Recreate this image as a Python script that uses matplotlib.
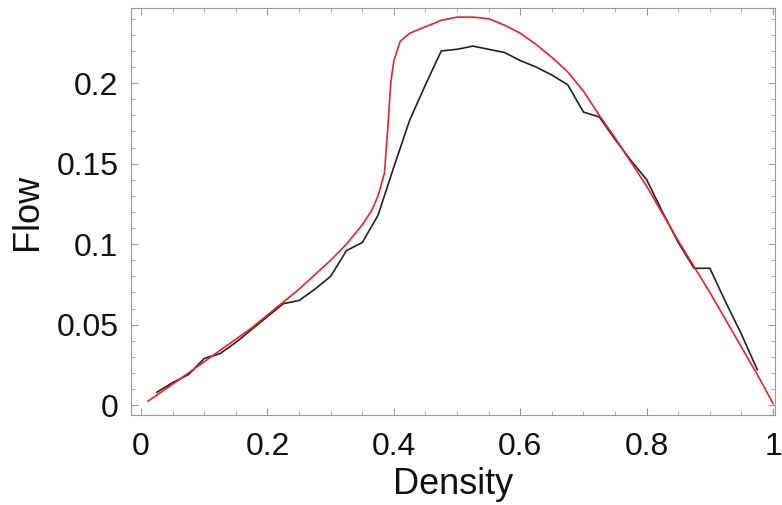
import numpy as np
import matplotlib
matplotlib.use('Agg')
import matplotlib.pyplot as plt
from matplotlib.ticker import MultipleLocator

plt.rcParams['font.family'] = ['Liberation Sans', 'DejaVu Sans']

# simulation (black)
sim_density = [0.025, 0.05, 0.075, 0.1, 0.125, 0.15, 0.175, 0.2, 0.225, 0.25,
               0.275, 0.3, 0.325, 0.35, 0.375, 0.4, 0.425, 0.45, 0.475, 0.5,
               0.525, 0.55, 0.575, 0.6, 0.625, 0.65, 0.675, 0.7, 0.725, 0.75,
               0.775, 0.8, 0.825, 0.85, 0.875, 0.9, 0.925, 0.95, 0.975]
sim_flow = [0.008, 0.014, 0.019, 0.029, 0.032, 0.039, 0.047, 0.055, 0.063, 0.065,
            0.072, 0.080, 0.096, 0.101, 0.118, 0.148, 0.177, 0.199, 0.220, 0.221,
            0.223, 0.221, 0.219, 0.214, 0.210, 0.205, 0.199, 0.182, 0.179, 0.165,
            0.152, 0.140, 0.120, 0.101, 0.085, 0.085, 0.064, 0.044, 0.022]

# theory (red)
th_density = [0.011, 0.05, 0.075, 0.1, 0.125, 0.15, 0.175, 0.2, 0.225, 0.25,
              0.275, 0.3, 0.325, 0.35, 0.365, 0.375, 0.385, 0.39, 0.395, 0.4,
              0.41, 0.425, 0.45, 0.475, 0.5, 0.525, 0.55, 0.575, 0.6, 0.625,
              0.65, 0.675, 0.7, 0.725, 0.75, 0.775, 0.8, 0.825, 0.85, 0.875,
              0.9, 0.925, 0.95, 0.975, 1.0]
th_flow = [0.0025, 0.013, 0.020, 0.027, 0.034, 0.041, 0.048, 0.056, 0.064, 0.072,
           0.081, 0.090, 0.100, 0.112, 0.121, 0.130, 0.144, 0.170, 0.200, 0.214,
           0.226, 0.231, 0.235, 0.239, 0.241, 0.241, 0.240, 0.236, 0.231, 0.224,
           0.216, 0.207, 0.195, 0.180, 0.166, 0.151, 0.136, 0.119, 0.102, 0.086,
           0.070, 0.053, 0.036, 0.019, 0.001]

fig = plt.figure(figsize=(7.82, 5.05), dpi=100)
ax = fig.add_axes([0.1675, 0.178, 0.8235, 0.806])

ax.plot(sim_density, sim_flow, color='#222222', lw=1.2)
ax.plot(th_density, th_flow, color='#e8232a', lw=1.2)

ax.set_xlim(-0.016, 1.003)
ax.set_ylim(-0.0062, 0.2466)

ax.set_xticks([0, 0.2, 0.4, 0.6, 0.8, 1])
ax.set_xticklabels(['0', '0.2', '0.4', '0.6', '0.8', '1'])
ax.set_yticks([0, 0.05, 0.1, 0.15, 0.2])
ax.set_yticklabels(['0', '0.05', '0.1', '0.15', '0.2'])
ax.xaxis.set_minor_locator(MultipleLocator(0.05))
ax.yaxis.set_minor_locator(MultipleLocator(0.01))

ax.tick_params(which='both', direction='in', top=True, right=True,
               color='#999999', labelsize=23, labelcolor='#111111')
ax.tick_params(axis='x', pad=12)
ax.tick_params(axis='y', pad=9)
ax.tick_params(which='major', length=5, width=0.8)
ax.tick_params(which='minor', length=3, width=0.6)
for s in ax.spines.values():
    s.set_color('#999999')
    s.set_linewidth(0.8)

ax.set_xlabel('Density', fontsize=26, color='#111111', labelpad=4)
ax.set_ylabel('Flow', fontsize=26, color='#111111', labelpad=8)

fig.savefig('out.png', dpi=100)
